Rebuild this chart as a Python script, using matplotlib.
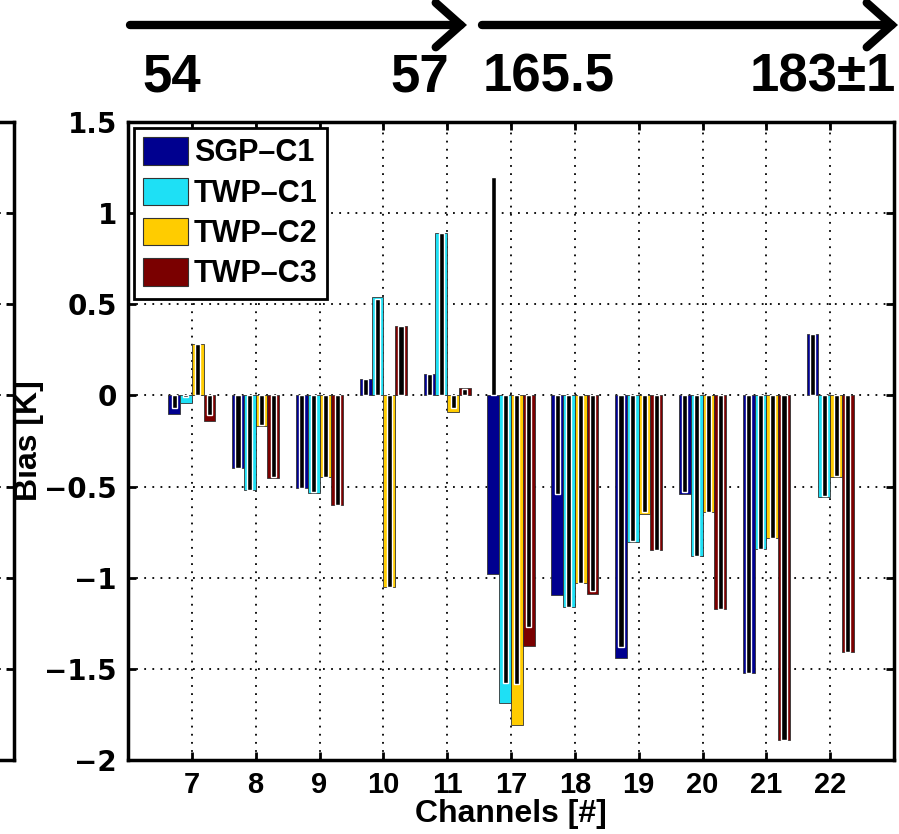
import numpy as np
import matplotlib.pyplot as plt
from matplotlib.patches import Patch

plt.rcParams['font.family'] = ['Liberation Sans', 'DejaVu Sans']
plt.rcParams['font.weight'] = 'bold'
plt.rcParams['axes.labelweight'] = 'bold'

channels = ['7', '8', '9', '10', '11', '17', '18', '19', '20', '21', '22']
sites = ['SGP\u2013C1', 'TWP\u2013C1', 'TWP\u2013C2', 'TWP\u2013C3']
colors = ['#00008f', '#1ee0f5', '#ffcc00', '#7a0000']

# bias per site (wide coloured bars)
bias_sgp_c1 = [-0.10, -0.40, -0.51, 0.09, 0.115, -0.98, -1.095, -1.44, -0.54, -1.525, 0.335]
bias_twp_c1 = [-0.04, -0.52, -0.535, 0.54, 0.89, -1.69, -1.16, -0.805, -0.88, -0.845, -0.555]
bias_twp_c2 = [0.28, -0.17, -0.45, -1.05, -0.09, -1.81, -1.03, -0.65, -0.64, -0.78, -0.45]
bias_twp_c3 = [-0.14, -0.455, -0.60, 0.38, 0.04, -1.375, -1.09, -0.85, -1.17, -1.89, -1.41]

# second bias set, thin black bars on top
bias2_sgp_c1 = [-0.07, -0.40, -0.51, 0.09, 0.115, 1.20, -0.54, -1.38, -0.53, -1.52, 0.335]
bias2_twp_c1 = [-0.01, -0.52, -0.53, 0.53, 0.89, -1.575, -1.16, -0.80, -0.88, -0.84, -0.55]
bias2_twp_c2 = [0.28, -0.16, -0.45, -1.05, -0.07, -1.585, -1.03, -0.64, -0.64, -0.78, -0.44]
bias2_twp_c3 = [-0.11, -0.45, -0.60, 0.38, 0.035, -1.27, -1.075, -0.85, -1.17, -1.89, -1.41]

freq_labels = ['54', '57', '165.5', '183\u00b11']

bias = [bias_sgp_c1, bias_twp_c1, bias_twp_c2, bias_twp_c3]
bias2 = [bias2_sgp_c1, bias2_twp_c1, bias2_twp_c2, bias2_twp_c3]

W, H = 899, 834
fig = plt.figure(figsize=(W / 100, H / 100), dpi=100)
box = [128 / W, 1 - 760 / H, (894 - 128) / W, (760 - 122) / H]
yt = np.arange(-2, 1.51, 0.5)
dots = (0, (1, 3.5))

# neighbouring panel, only its right edge shows
ax0 = fig.add_axes([-0.5, box[1], 0.5 + 14 / W, box[3]])
ax0.set_ylim(-2, 1.5)
ax0.set_yticks(yt)
ax0.set_yticklabels([])
ax0.set_xticks([])
ax0.tick_params(direction='in', length=6, width=2, right=True)
ax0.grid(True, axis='y', linestyle=dots, color='k', lw=1.3)
for s in ax0.spines.values():
    s.set_linewidth(2.5)

ax = fig.add_axes(box)
x = np.arange(1, len(channels) + 1)
w = 0.185
for i in range(4):
    xi = x + (i - 1.5) * w
    ax.bar(xi, bias[i], width=w, color=colors[i], edgecolor='#333333',
           linewidth=0.6, zorder=2)
    ax.bar(xi, bias2[i], width=0.08, color='k', edgecolor='white',
           linewidth=1.0, zorder=3)

ax.set_xlim(0, 12)
ax.set_ylim(-2, 1.5)
ax.set_xticks(x)
ax.set_xticklabels(channels)
ax.set_yticks(yt)
ax.set_yticklabels([f'{v:g}'.replace('-', '\u2212') for v in yt],
                   family='DejaVu Sans', fontsize=20)
ax.tick_params(axis='x', labelsize=21)
ax.tick_params(direction='in', length=6, width=2, top=True, right=True, pad=8)
ax.set_axisbelow(True)
ax.grid(True, linestyle=dots, color='k', lw=1.3)
for s in ax.spines.values():
    s.set_linewidth(2.5)
ax.set_xlabel('Channels [#]', fontsize=23, labelpad=0)
ax.set_ylabel('Bias [K]', fontsize=23)
ax.yaxis.set_label_coords((44 - 128) / (894 - 128), 0.5)

handles = [Patch(facecolor=c, edgecolor='#333333', lw=0.8) for c in colors]
leg = ax.legend(handles, sites, loc='upper left', fontsize=22, fancybox=False,
                framealpha=1, edgecolor='k', handlelength=1.47, handleheight=1.0,
                borderpad=0.3, labelspacing=0.3, handletextpad=0.18,
                borderaxespad=0.2)
leg.get_frame().set_linewidth(2)

# frequency arrows above the panel
y_arrow = 1 - 25 / H
for x0, x1 in [(130, 467), (482, 898)]:
    ax.annotate('', xy=(x1 / W, y_arrow), xytext=(x0 / W, y_arrow),
                xycoords='figure fraction', textcoords='figure fraction',
                arrowprops=dict(arrowstyle='->,head_length=0.9,head_width=0.8',
                                mutation_scale=20, lw=6, color='k',
                                shrinkA=0, shrinkB=0, capstyle='round',
                                joinstyle='miter'))
for xc, t in zip([172, 420, 549, 823], freq_labels):
    fig.text(xc / W, 1 - 77 / H, t, fontsize=38, ha='center', va='center')

fig.savefig('out.png', dpi=100)
